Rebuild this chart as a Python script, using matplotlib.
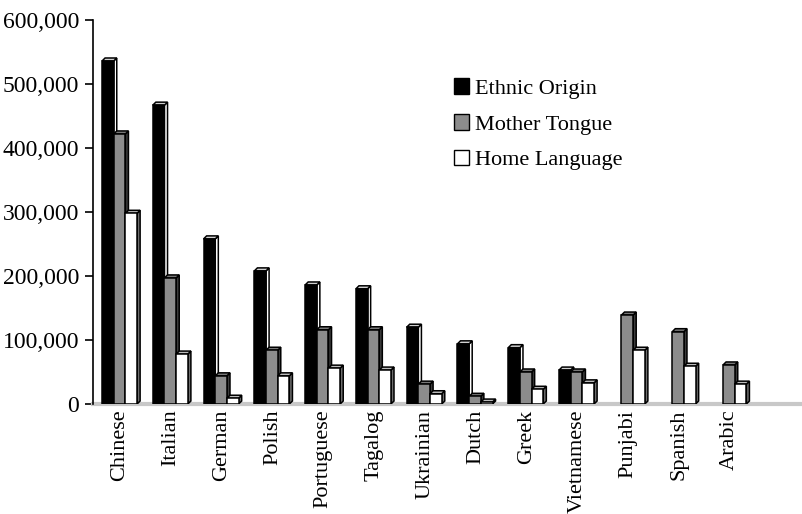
import matplotlib
matplotlib.use("Agg")
import matplotlib.pyplot as plt
from matplotlib.patches import Polygon, Patch
from matplotlib.ticker import FuncFormatter
import numpy as np

plt.rcParams['font.family'] = ['Liberation Serif', 'DejaVu Serif']

languages = ['Chinese', 'Italian', 'German', 'Polish', 'Portuguese', 'Tagalog',
             'Ukrainian', 'Dutch', 'Greek', 'Vietnamese', 'Punjabi', 'Spanish', 'Arabic']
ethnic_origin = [536000, 467000, 258000, 208000, 186000, 180000,
                 120000, 94000, 88000, 53000, 0, 0, 0]
mother_tongue = [422000, 197000, 44000, 84000, 116000, 116000,
                 31000, 12000, 50000, 50000, 139000, 113000, 61000]
home_language = [298000, 78000, 9000, 44000, 56000, 53000,
                 16000, 3000, 23000, 33000, 84000, 59000, 31000]

series = [
    ('Ethnic Origin', ethnic_origin, 'black', 'white', '#d0d0d0'),
    ('Mother Tongue', mother_tongue, '#8c8c8c', '#3c3c3c', '#777777'),
    ('Home Language', home_language, 'white', '#6e6e6e', '#bbbbbb'),
]

fig = plt.figure(figsize=(8.03, 5.14), dpi=100)
ax = fig.add_axes([0.116, 0.214, 0.884, 0.747])

x = np.arange(len(languages))
w = 0.23
dx = 0.06      # depth of the fake 3D side, in category units
dy = 4700      # depth offset upward, in data units

for k, (name, vals, front, side, top) in enumerate(series):
    for xi, v in zip(x, vals):
        if v <= 0:
            continue
        x0 = xi - 0.355 + k * w
        x1 = x0 + w
        # side face
        ax.add_patch(Polygon([(x1, 0), (x1 + dx, dy), (x1 + dx, v + dy), (x1, v)],
                             closed=True, facecolor=side, edgecolor='black',
                             linewidth=1.1, zorder=3 + k))
        # top face
        ax.add_patch(Polygon([(x0, v), (x0 + dx, v + dy), (x1 + dx, v + dy), (x1, v)],
                             closed=True, facecolor=top, edgecolor='black',
                             linewidth=1.1, zorder=3 + k))
        ax.bar(x0, v, width=w, align='edge', color=front, edgecolor='black',
               linewidth=1.1, zorder=4 + k)

# grey floor under the bars
ax.axhline(0, color='#c8c8c8', linewidth=3, zorder=2, clip_on=False)

ax.set_xlim(-0.53, 13.45)
ax.set_ylim(0, 600000)
ax.set_yticks(np.arange(0, 600001, 100000))
ax.yaxis.set_major_formatter(FuncFormatter(lambda v, p: f'{int(v):,}'))
ax.set_xticks(x)
ax.set_xticklabels(languages, rotation=90, va='top', ha='center')
ax.tick_params(axis='x', length=0, pad=4, labelsize=16)
ax.tick_params(axis='y', direction='out', length=6, width=1.2, pad=4, labelsize=17)

for s in ['top', 'right', 'bottom']:
    ax.spines[s].set_visible(False)
ax.spines['left'].set_linewidth(1.2)

handles = [Patch(facecolor=f, edgecolor='black', linewidth=1.0) for _, _, f, _, _ in series]
ax.legend(handles, [s[0] for s in series], loc='upper left',
          bbox_to_anchor=(0.48, 0.9), frameon=False, fontsize=16,
          handlelength=0.7, handleheight=0.7, handletextpad=0.25, labelspacing=0.68)

fig.savefig('out.png', dpi=100)
